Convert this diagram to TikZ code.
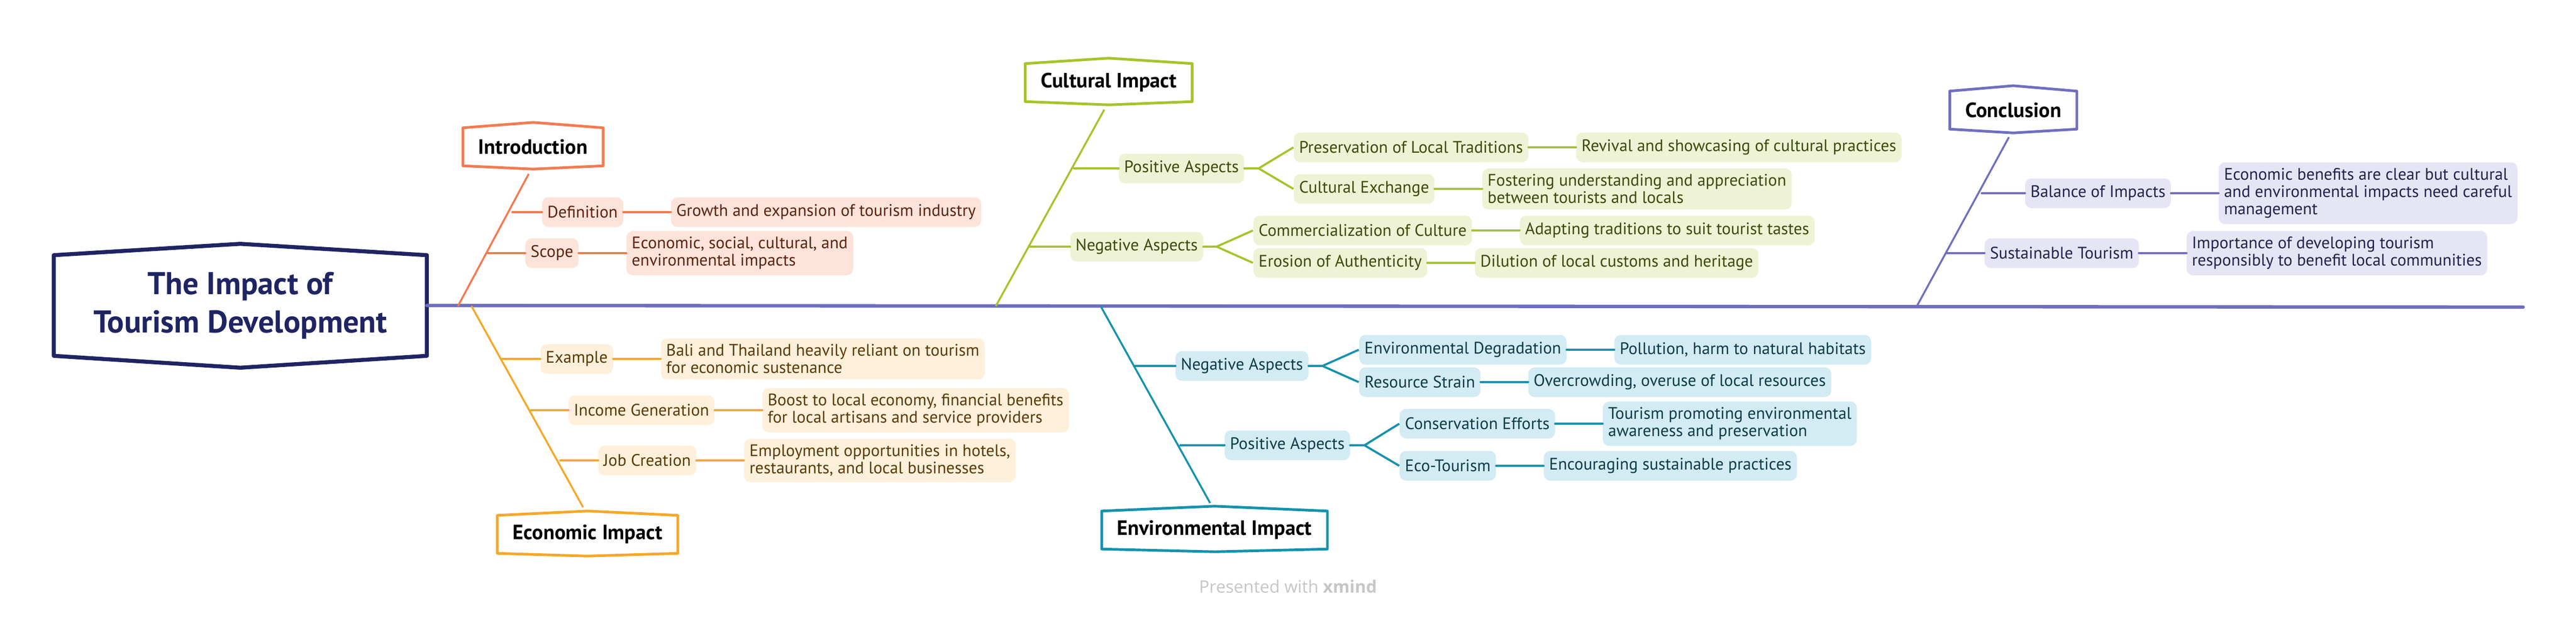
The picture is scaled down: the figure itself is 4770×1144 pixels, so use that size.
\documentclass[tikz,border=0pt]{standalone}
\usepackage{fontspec}
\setmainfont{PT Sans}
\newfontfamily\creditfont{Open Sans}
\usetikzlibrary{positioning}

% Branch colours: C line, F fill, T text
\definecolor{mainC}{HTML}{1F2463}
\definecolor{spineC}{HTML}{6E6EC0}
\definecolor{introC}{HTML}{F37B4F}
\definecolor{introF}{HTML}{FDE3D9}
\definecolor{introT}{HTML}{5C2210}
\definecolor{econC}{HTML}{F6A828}
\definecolor{econF}{HTML}{FEF0DB}
\definecolor{econT}{HTML}{5A3A05}
\definecolor{cultC}{HTML}{A6C42B}
\definecolor{cultF}{HTML}{EEF3D5}
\definecolor{cultT}{HTML}{3B4A0B}
\definecolor{envC}{HTML}{1592AE}
\definecolor{envF}{HTML}{D3EBF3}
\definecolor{envT}{HTML}{0B3B48}
\definecolor{conC}{HTML}{6F6FC0}
\definecolor{conF}{HTML}{E5E5F4}
\definecolor{conT}{HTML}{22224F}
\definecolor{creditC}{HTML}{C6C6C6}

% Frame of a topic box: node, colour, line width, rise on top, drop below
\newcommand{\topicframe}[5]{%
  \draw[#2, line width=#3, line join=round]
    (#1.north west) -- ([yshift=#4]#1.north) -- (#1.north east)
    -- (#1.south east) -- ([yshift=-#5]#1.south) -- (#1.south west) -- cycle;}

\tikzset{
  main/.style={fill=white, text=mainC, align=center, minimum width=6.89cm,
    minimum height=1.85cm, font=\bfseries\fontsize{16.6}{20}\selectfont},
  topic/.style={fill=white, text=black, minimum height=0.69cm, inner xsep=0.28cm,
    font=\bfseries\fontsize{10.9}{13}\selectfont},
  sub/.style={fill=#1F, text=#1T, rounded corners=0.12cm, inner xsep=0.1cm,
    inner ysep=0.11cm, minimum height=0.55cm, align=left,
    font=\fontsize{8.8}{9.1}\selectfont},
  spine/.style={draw=spineC, line width=1.8pt, line cap=round},
  bone/.style={draw=#1C, line width=1pt, shorten >=0.17cm},
  twig/.style={draw=#1C, line width=1.4pt, line cap=round},
  fork/.style={draw=#1C, line width=1.1pt, line join=round},
  credit/.style={text=creditC, font=\creditfont\fontsize{9}{11}\selectfont},
}

\begin{document}
\begin{tikzpicture}[x=0.01cm, y=-0.01cm]

    % Canvas: one unit per pixel of the layout, y counted downwards
    \useasboundingbox (0,0) rectangle (4770,1144);

    % Central topic and the spine
    \node[main] (title) at (445,566) {The Impact of\\Tourism Development};
    \topicframe{title}{mainC}{2.1pt}{0.21cm}{0.22cm}
    \coordinate (spine-end) at (4672,569);
    \draw[spine] (title.east) -- (spine-end);

    % Introduction (above the spine)
    \coordinate (intro-root) at (848,567);
    \node[topic] (intro) at (987,272) {Introduction};
    \topicframe{intro}{introC}{1.4pt}{0.1cm}{0.06cm}
    \draw[bone=intro] (intro-root) -- (intro.south);

    \coordinate (def-j) at (949,393);
    \coordinate (scope-j) at (904,469);
    \node[sub=intro, anchor=west] (def) at (1003,393) {Definition};
    \node[sub=intro, anchor=west] (scope) at (972,469) {Scope};
    \node[sub=intro, right=0.87cm of def] (growth) {Growth and expansion of tourism industry};
    \node[sub=intro, right=0.87cm of scope] (spheres) {Economic, social, cultural, and\\environmental impacts};
    \draw[twig=intro] (def-j) -- (def.west) (def.east) -- (growth.west);
    \draw[twig=intro] (scope-j) -- (scope.west) (scope.east) -- (spheres.west);

    % Economic Impact (below the spine)
    \coordinate (econ-root) at (873,567);
    \node[topic] (econ) at (1088,990) {Economic Impact};
    \topicframe{econ}{econC}{1.4pt}{0.08cm}{0.05cm}
    \draw[bone=econ] (econ-root) -- (econ.north);

    \coordinate (example-j) at (929,665);
    \coordinate (income-j) at (984,760);
    \coordinate (jobs-j) at (1038,853);
    \node[sub=econ, anchor=west] (example) at (1000,665) {Example};
    \node[sub=econ, anchor=west] (income) at (1052,760) {Income Generation};
    \node[sub=econ, anchor=west] (jobs) at (1107,853) {Job Creation};
    \node[sub=econ, right=0.87cm of example] (bali) {Bali and Thailand heavily reliant on tourism\\for economic sustenance};
    \node[sub=econ, right=0.87cm of income] (boost) {Boost to local economy, financial benefits\\for local artisans and service providers};
    \node[sub=econ, right=0.87cm of jobs] (employ) {Employment opportunities in hotels,\\restaurants, and local businesses};
    \draw[twig=econ] (example-j) -- (example.west) (example.east) -- (bali.west);
    \draw[twig=econ] (income-j) -- (income.west) (income.east) -- (boost.west);
    \draw[twig=econ] (jobs-j) -- (jobs.west) (jobs.east) -- (employ.west);

    % Cultural Impact (above the spine)
    \coordinate (cult-root) at (1844,567);
    \node[topic] (cult) at (2053,153) {Cultural Impact};
    \topicframe{cult}{cultC}{1.4pt}{0.1cm}{0.06cm}
    \draw[bone=cult] (cult-root) -- (cult.south);

    \coordinate (cpos-j) at (1989,312);
    \coordinate (cneg-j) at (1907,457);
    \node[sub=cult, anchor=west] (cpos) at (2071,312) {Positive Aspects};
    \node[sub=cult, anchor=west] (cneg) at (1981,457) {Negative Aspects};
    \coordinate (cpos-f) at ([xshift=0.26cm]cpos.east);
    \coordinate (cneg-f) at ([xshift=0.24cm]cneg.east);
    \node[sub=cult, anchor=west] (preserve) at (2395,273) {Preservation of Local Traditions};
    \node[sub=cult, anchor=west] (exchange) at (2395,350) {Cultural Exchange};
    \node[sub=cult, anchor=west] (commerce) at (2320,427) {Commercialization of Culture};
    \node[sub=cult, anchor=west] (erosion) at (2320,487) {Erosion of Authenticity};
    \node[sub=cult, right=0.87cm of preserve] (revival) {Revival and showcasing of cultural practices};
    \node[sub=cult, right=0.87cm of exchange] (foster) {Fostering understanding and appreciation\\between tourists and locals};
    \node[sub=cult, right=0.87cm of commerce] (adapt) {Adapting traditions to suit tourist tastes};
    \node[sub=cult, right=0.87cm of erosion] (dilute) {Dilution of local customs and heritage};
    \draw[twig=cult] (cpos-j) -- (cpos.west) (cpos.east) -- (cpos-f);
    \draw[twig=cult] (cneg-j) -- (cneg.west) (cneg.east) -- (cneg-f);
    \draw[fork=cult] (preserve.west) -- (cpos-f) -- (exchange.west);
    \draw[fork=cult] (commerce.west) -- (cneg-f) -- (erosion.west);
    \draw[twig=cult] (preserve.east) -- (revival.west) (exchange.east) -- (foster.west);
    \draw[twig=cult] (commerce.east) -- (adapt.west) (erosion.east) -- (dilute.west);

    % Environmental Impact (below the spine)
    \coordinate (env-root) at (2038,567);
    \node[topic] (env) at (2249,982) {Environmental Impact};
    \topicframe{env}{envC}{1.4pt}{0.09cm}{0.05cm}
    \draw[bone=env] (env-root) -- (env.north);

    \coordinate (eneg-j) at (2102,678);
    \coordinate (epos-j) at (2186,825);
    \node[sub=env, anchor=west] (eneg) at (2176,678) {Negative Aspects};
    \node[sub=env, anchor=west] (epos) at (2267,825) {Positive Aspects};
    \coordinate (eneg-f) at ([xshift=0.25cm]eneg.east);
    \coordinate (epos-f) at ([xshift=0.26cm]epos.east);
    \node[sub=env, anchor=west] (degrade) at (2516,648) {Environmental Degradation};
    \node[sub=env, anchor=west] (strain) at (2516,708) {Resource Strain};
    \node[sub=env, anchor=west] (conserve) at (2591,785) {Conservation Efforts};
    \node[sub=env, anchor=west] (eco) at (2591,863) {Eco-Tourism};
    \node[sub=env, right=0.87cm of degrade] (pollute) {Pollution, harm to natural habitats};
    \node[sub=env, right=0.87cm of strain] (crowd) {Overcrowding, overuse of local resources};
    \node[sub=env, right=0.87cm of conserve] (aware) {Tourism promoting environmental\\awareness and preservation};
    \node[sub=env, right=0.87cm of eco] (practice) {Encouraging sustainable practices};
    \draw[twig=env] (eneg-j) -- (eneg.west) (eneg.east) -- (eneg-f);
    \draw[twig=env] (epos-j) -- (epos.west) (epos.east) -- (epos-f);
    \draw[fork=env] (degrade.west) -- (eneg-f) -- (strain.west);
    \draw[fork=env] (conserve.west) -- (epos-f) -- (eco.west);
    \draw[twig=env] (degrade.east) -- (pollute.west) (strain.east) -- (crowd.west);
    \draw[twig=env] (conserve.east) -- (aware.west) (eco.east) -- (practice.west);

    % Conclusion (above the spine)
    \coordinate (con-root) at (3549,568);
    \node[topic] (con) at (3728,204) {Conclusion};
    \topicframe{con}{conC}{1.4pt}{0.1cm}{0.07cm}
    \draw[bone=con] (con-root) -- (con.south);

    \coordinate (balance-j) at (3670,358);
    \coordinate (sustain-j) at (3606,469);
    \node[sub=con, anchor=west] (balance) at (3749,358) {Balance of Impacts};
    \node[sub=con, anchor=west] (sustain) at (3674,469) {Sustainable Tourism};
    \node[sub=con, right=0.87cm of balance] (benefit) {Economic benefits are clear but cultural\\and environmental impacts need careful\\management};
    \node[sub=con, right=0.87cm of sustain] (respons) {Importance of developing tourism\\responsibly to benefit local communities};
    \draw[twig=con] (balance-j) -- (balance.west) (balance.east) -- (benefit.west);
    \draw[twig=con] (sustain-j) -- (sustain.west) (sustain.east) -- (respons.west);

    % Footer
    \node[credit] (footer) at (2385,1087) {Presented with \textbf{xmind}};

\end{tikzpicture}
\end{document}
